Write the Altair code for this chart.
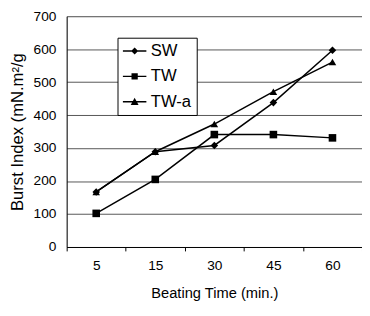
import altair as alt
import pandas as pd

times = ["5", "15", "30", "45", "60"]
series = ["SW", "TW", "TW-a"]
sw = [167, 289, 308, 438, 597]
tw = [102, 205, 341, 341, 331]
twa = [167, 289, 373, 471, 561]
y_ticks = [0, 100, 200, 300, 400, 500, 600, 700]

rows = []
for name, vals in zip(series, [sw, tw, twa]):
    for t, v in zip(times, vals):
        rows.append({"time": t, "value": v, "series": name})
df = pd.DataFrame(rows)

FONT = "Liberation Sans"

x = alt.X(
    "time:O",
    sort=times,
    scale=alt.Scale(type="band", paddingInner=0, paddingOuter=0),
    axis=alt.Axis(
        title="Beating Time (min.)", labelAngle=0, tickBand="extent",
        tickSize=4, labelPadding=8, titlePadding=14, grid=False,
        labelFontSize=14, titleFontSize=15, titleFontWeight="normal",
        domainColor="black", tickColor="black", labelColor="black", titleColor="black",
    ),
)
y = alt.Y(
    "value:Q",
    scale=alt.Scale(domain=[0, 700], nice=False),
    axis=alt.Axis(
        title="Burst Index (mN.m\u00b2/g", values=y_ticks, ticks=False,
        labelPadding=11, titlePadding=7, grid=True, gridColor="#555555",
        gridWidth=1, labelFontSize=14, titleFontSize=17, titleFontWeight="normal",
        domainColor="black", labelColor="black", titleColor="black",
    ),
)

lines = alt.Chart(df).mark_line(color="black", strokeWidth=1.5).encode(
    x=x, y=y, detail="series:N"
)
points = alt.Chart(df).mark_point(filled=True, color="black", opacity=1, size=60).encode(
    x=x, y=y,
    shape=alt.Shape("series:N", scale=alt.Scale(domain=series, range=["diamond", "square", "triangle-up"]), legend=None),
)

bar = "M-1.5,-0.09H1.5V0.09H-1.5Z"
leg_paths = [
    bar + "M0,-0.45L0.45,0L0,0.45L-0.45,0Z",
    bar + "M-0.4,-0.4H0.4V0.4H-0.4Z",
    bar + "M0,-0.5L0.5,0.4H-0.5Z",
]
legend_layer = alt.Chart(df).mark_point(filled=True, color="black", opacity=0).encode(
    x=x, y=y,
    shape=alt.Shape(
        "series:N",
        scale=alt.Scale(domain=series, range=leg_paths),
        legend=alt.Legend(
            title=None, orient="none", legendX=52, legendY=22,
            strokeColor="black", fillColor="white", padding=5,
            symbolSize=256, symbolOffset=4, labelOffset=8, rowPadding=8,
            symbolFillColor="black", symbolStrokeWidth=0, symbolOpacity=1,
            labelFontSize=17, labelColor="black", labelFont=FONT,
        ),
    ),
)

chart = (
    alt.layer(lines, points, legend_layer)
    .resolve_scale(shape="independent")
    .properties(
        width=302, height=236,
        padding={"left": 60, "top": 5, "right": 0, "bottom": 60},
        autosize=alt.AutoSizeParams(type="none"),
    )
    .configure_view(stroke="black", strokeWidth=1)
    .configure(font=FONT)
    .configure_axis(labelFont=FONT, titleFont=FONT)
)

chart.save("out.html", embed_options={"renderer": "svg", "actions": False})
